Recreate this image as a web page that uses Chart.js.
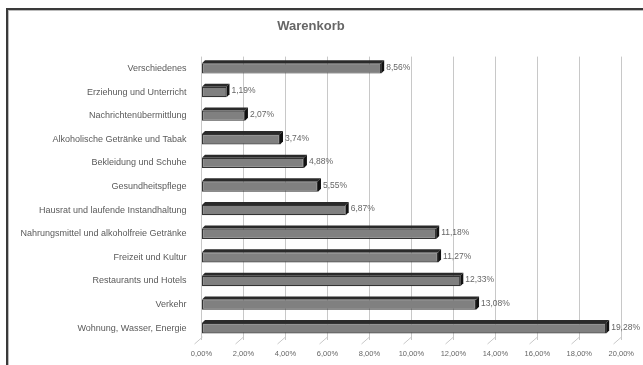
<!DOCTYPE html>
<html>
<head>
<meta charset="utf-8">
<script src="https://cdn.jsdelivr.net/npm/chart.js@4"></script>
<style>
  html, body { margin: 0; padding: 0; background: #fff; overflow: hidden; }
  #wrap { position: relative; width: 643px; height: 365px; }
  #frame { position: absolute; left: 6px; top: 8px; width: 700px; height: 400px;
           border-left: 2px solid #3a3a3a; border-top: 2px solid #3a3a3a; box-shadow: inset 1px 1px 0 #bbb; }
  canvas { position: absolute; left: 0; top: 0; }
</style>
</head>
<body>
<div id="wrap">
  <div id="frame"></div>
  <canvas id="chart" width="643" height="365"></canvas>
</div>
<script>
const categories = [
  'Verschiedenes',
  'Erziehung und Unterricht',
  'Nachrichtenübermittlung',
  'Alkoholische Getränke und Tabak',
  'Bekleidung und Schuhe',
  'Gesundheitspflege',
  'Hausrat und laufende Instandhaltung',
  'Nahrungsmittel und alkoholfreie Getränke',
  'Freizeit und Kultur',
  'Restaurants und Hotels',
  'Verkehr',
  'Wohnung, Wasser, Energie'
];
const shares = [8.56, 1.19, 2.07, 3.74, 4.88, 5.55, 6.87, 11.18, 11.27, 12.33, 13.08, 19.28];
const axisMax = 20;
const axisStep = 2;

const fmt = v => v.toFixed(2).replace('.', ',') + '%';
const DEPTH = 3;

// 3D-Kanten, Bodenlinien und Werte an den Balken
const bar3d = {
  id: 'bar3d',
  beforeDatasetsDraw(chart) {
    const ctx = chart.ctx;
    const xs = chart.scales.x;
    const bottom = chart.chartArea.bottom;
    ctx.save();
    ctx.strokeStyle = '#c8c8c8';
    ctx.lineWidth = 1;
    xs.ticks.forEach((t, i) => {
      const x = Math.round(xs.getPixelForTick(i)) + 0.5;
      ctx.beginPath();
      ctx.moveTo(x, bottom - 3);
      ctx.lineTo(x - 8, bottom + 4);
      ctx.stroke();
    });
    ctx.restore();
  },
  afterDatasetsDraw(chart) {
    const ctx = chart.ctx;
    const meta = chart.getDatasetMeta(0);
    ctx.save();
    meta.data.forEach((bar, i) => {
      const left = bar.base, right = bar.x;
      const top = bar.y - bar.height / 2, bot = bar.y + bar.height / 2;
      // obere Fläche
      ctx.fillStyle = '#2a2a2a';
      ctx.beginPath();
      ctx.moveTo(left, top);
      ctx.lineTo(left + DEPTH, top - DEPTH);
      ctx.lineTo(right + DEPTH, top - DEPTH);
      ctx.lineTo(right, top);
      ctx.closePath();
      ctx.fill();
      // Seitenfläche
      ctx.fillStyle = '#111';
      ctx.beginPath();
      ctx.moveTo(right, top);
      ctx.lineTo(right + DEPTH, top - DEPTH);
      ctx.lineTo(right + DEPTH, bot - DEPTH);
      ctx.lineTo(right, bot);
      ctx.closePath();
      ctx.fill();
      // Wert
      ctx.fillStyle = '#666';
      ctx.font = '8.5px "Liberation Sans", sans-serif';
      ctx.textAlign = 'left';
      ctx.textBaseline = 'middle';
      ctx.fillText(fmt(shares[i]), right + DEPTH + 2, bar.y - 1);
    });
    ctx.restore();
  }
};

const ctx = document.getElementById('chart').getContext('2d');

new Chart(ctx, {
  type: 'bar',
  data: {
    labels: categories,
    datasets: [{
      data: shares,
      backgroundColor: (c) => {
        const b = c.element;
        if (!b || b.y === undefined) return '#808080';
        const g = c.chart.ctx.createLinearGradient(0, b.y - 5, 0, b.y + 5);
        g.addColorStop(0, '#9c9c9c');
        g.addColorStop(0.5, '#828282');
        g.addColorStop(1, '#626262');
        return g;
      },
      borderColor: '#333',
      borderWidth: 1.2,
      borderSkipped: false,
      categoryPercentage: 1,
      barPercentage: 0.44
    }]
  },
  options: {
    indexAxis: 'y',
    responsive: false,
    animation: false,
    layout: { padding: { left: 0, right: 21, top: 0, bottom: 0 } },
    plugins: {
      legend: { display: false },
      tooltip: { enabled: false },
      title: {
        display: true,
        text: 'Warenkorb',
        color: '#666',
        font: { family: '"Liberation Sans", sans-serif', size: 13, weight: 'bold' },
        padding: { top: 19, bottom: 22 }
      }
    },
    scales: {
      x: {
        min: 0,
        max: axisMax,
        ticks: {
          stepSize: axisStep,
          padding: 9,
          color: '#666',
          font: { family: '"Liberation Sans", sans-serif', size: 7.5 },
          callback: v => fmt(v)
        },
        grid: { color: '#c8c8c8', drawTicks: false },
        border: { display: false },
        afterFit: s => { s.height = 25; }
      },
      y: {
        ticks: {
          padding: 15,
          color: '#5a5a5a',
          font: { family: '"Liberation Sans", sans-serif', size: 9 }
        },
        grid: { display: false, drawTicks: false },
        border: { display: false },
        afterFit: s => { s.width = 201.5; }
      }
    }
  },
  plugins: [bar3d]
});
</script>
</body>
</html>
